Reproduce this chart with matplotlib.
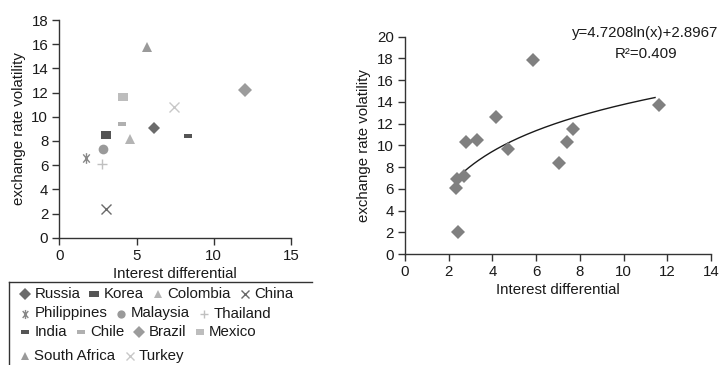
import numpy as np
import matplotlib
matplotlib.use("Agg")
import matplotlib.pyplot as plt
from matplotlib.path import Path
from matplotlib.lines import Line2D

plt.rcParams["font.family"] = ["Liberation Sans", "DejaVu Sans"]
plt.rcParams["font.size"] = 10.8

# ---- left panel: one marker per country ----
countries = ["Russia", "Korea", "Colombia", "China", "Philippines", "Malaysia",
             "Thailand", "India", "Chile", "Brazil", "Mexico", "South Africa", "Turkey"]
interest = [6.1, 3.0, 4.6, 3.0, 1.7, 2.85, 2.75, 8.35, 4.05, 12.05, 4.1, 5.65, 7.4]
volatility = [9.1, 8.5, 8.2, 2.4, 6.6, 7.3, 6.1, 8.45, 9.4, 12.2, 11.6, 15.8, 10.8]

# ---- right panel: pooled observations and log trend ----
pooled_x = [2.32, 2.36, 2.42, 2.68, 2.8, 3.3, 4.15, 4.7, 5.85, 7.03, 7.4, 7.67, 11.6]
pooled_y = [6.05, 6.9, 2.0, 7.2, 10.35, 10.45, 12.6, 9.7, 17.9, 8.35, 10.3, 11.5, 13.7]
trend_a, trend_b = 4.7208, 2.8967
trend_r2 = 0.409
trend_range = (2.32, 11.44)

left_xticks = [0, 5, 10, 15]
left_yticks = list(range(0, 19, 2))
right_xticks = list(range(0, 15, 2))
right_yticks = list(range(0, 21, 2))

# custom marker shapes
rect_marker = Path([(-0.72, -0.5), (0.72, -0.5), (0.72, 0.5), (-0.72, 0.5), (-0.72, -0.5)],
                   [Path.MOVETO, Path.LINETO, Path.LINETO, Path.LINETO, Path.CLOSEPOLY])
dash_marker = Path([(-1, -0.45), (1, -0.45), (1, 0.45), (-1, 0.45), (-1, -0.45)],
                   [Path.MOVETO, Path.LINETO, Path.LINETO, Path.LINETO, Path.CLOSEPOLY])
star_marker = Path([(-0.8, -1), (0.8, 1), (-0.8, 1), (0.8, -1), (0, -1.3), (0, 1.3)],
                   [Path.MOVETO, Path.LINETO, Path.MOVETO, Path.LINETO, Path.MOVETO, Path.LINETO])

# (marker, size, colour, filled)
styles = {
    "Russia": ("D", 6.6, "#6b6b6b", True),
    "Korea": (rect_marker, 7.7, "#555555", True),
    "Colombia": ("^", 7.2, "#b4b4b4", True),
    "China": ("x", 6.5, "#6a6a6a", False),
    "Philippines": (star_marker, 7.7, "#888888", False),
    "Malaysia": ("o", 7.0, "#9a9a9a", True),
    "Thailand": ("+", 6.7, "#c0c0c0", False),
    "India": (dash_marker, 6.0, "#555555", True),
    "Chile": (dash_marker, 6.0, "#b0b0b0", True),
    "Brazil": ("D", 6.9, "#9c9c9c", True),
    "Mexico": (rect_marker, 7.5, "#bdbdbd", True),
    "South Africa": ("^", 7.2, "#9a9a9a", True),
    "Turkey": ("x", 7.0, "#c8c8c8", False),
}

W, H = 722, 365
fig = plt.figure(figsize=(W / 100, H / 100), dpi=100)
TXT = "#1a1a1a"


def fx(px):
    return px / W


def fy(py):
    return 1 - py / H


def style_axes(ax):
    for s in ("top", "right"):
        ax.spines[s].set_visible(False)
    for s in ("left", "bottom"):
        ax.spines[s].set_color("#333333")
        ax.spines[s].set_linewidth(1.0)
    ax.tick_params(direction="out", length=5, width=1.0, color="#333333",
                   labelcolor=TXT, labelsize=10.8, pad=3)


def marker_kw(name, scale=1.0):
    m, ms, c, filled = styles[name]
    if filled:
        return dict(marker=m, markersize=ms * scale, markerfacecolor=c,
                    markeredgewidth=0, linestyle="none")
    return dict(marker=m, markersize=ms * scale, markeredgecolor=c,
                markerfacecolor="none", markeredgewidth=1.0, linestyle="none")


# left scatter
axL = fig.add_axes([fx(59.3), fy(237.7), (291 - 59.3) / W, (237.7 - 20) / H])
for name, x, y in zip(countries, interest, volatility):
    axL.plot([x], [y], **marker_kw(name), clip_on=False)
axL.set_xlim(0, 15)
axL.set_ylim(0, 18)
axL.set_xticks(left_xticks)
axL.set_yticks(left_yticks)
axL.set_xlabel("Interest differential", color=TXT, labelpad=3)
axL.set_ylabel("exchange rate volatility", color=TXT, labelpad=4)
style_axes(axL)

# right scatter with logarithmic trend
axR = fig.add_axes([fx(405), fy(254), (711 - 405) / W, (254 - 36.7) / H])
tx = np.linspace(trend_range[0], trend_range[1], 200)
axR.plot(tx, trend_a * np.log(tx) + trend_b, color="#1a1a1a", lw=1.0, zorder=2)
axR.plot(pooled_x, pooled_y, linestyle="none", marker="D", markersize=7.1,
         markerfacecolor="#808080", markeredgewidth=0, zorder=3, clip_on=False)
axR.set_xlim(0, 14)
axR.set_ylim(0, 20)
axR.set_xticks(right_xticks)
axR.set_yticks(right_yticks)
axR.set_xlabel("Interest differential", color=TXT, labelpad=3)
axR.set_ylabel("exchange rate volatility", color=TXT, labelpad=4)
style_axes(axR)
fig.text(fx(645), fy(33.5), f"y={trend_a}ln(x)+{trend_b}", ha="center", va="center",
         color=TXT, fontsize=10.8)
fig.text(fx(646), fy(53.5), f"R\u00b2={trend_r2}", ha="center", va="center",
         color=TXT, fontsize=10.8)

# legend laid out in rows below the left panel, frame open at right and bottom
legend_rows = [["Russia", "Korea", "Colombia", "China"],
               ["Philippines", "Malaysia", "Thailand"],
               ["India", "Chile", "Brazil", "Mexico"],
               ["South Africa", "Turkey"]]
row_y = [293.5, 313.5, 331.5, 356]
frame_kw = dict(transform=fig.transFigure, color="#333333", linewidth=1.0)
fig.add_artist(Line2D([fx(9.3), fx(312)], [fy(282.3), fy(282.3)], **frame_kw))
fig.add_artist(Line2D([fx(9.3), fx(9.3)], [fy(282.3), fy(370)], **frame_kw))
renderer = fig.canvas.get_renderer()
for row, yp in zip(legend_rows, row_y):
    xp = 25
    for name in row:
        fig.add_artist(Line2D([fx(xp)], [fy(yp)], transform=fig.transFigure,
                              **marker_kw(name, 0.85)))
        t = fig.text(fx(xp + 9.5), fy(yp), name, ha="left", va="center",
                     color=TXT, fontsize=10.8)
        w = t.get_window_extent(renderer).width
        xp = xp + 9.5 + w + 14

fig.savefig("out.png", dpi=100)
